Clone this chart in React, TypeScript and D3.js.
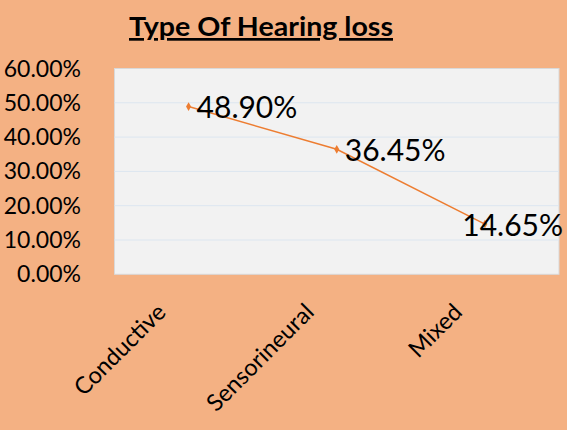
import React from "react";
import * as d3 from "d3";

const categories = ["Conductive", "Sensorineural", "Mixed"];
const values = [48.9, 36.45, 14.65];
const valueLabels = ["48.90%", "36.45%", "14.65%"];
const yTicks = [0, 10, 20, 30, 40, 50, 60];

const W = 567;
const H = 430;
const plot = { left: 114.5, right: 559, top: 68.5, bottom: 274.3 };
const FONT = "Lato, 'Open Sans', sans-serif";

export default function App() {
  const x = d3.scaleBand<string>().domain(categories).range([plot.left, plot.right]);
  const y = d3.scaleLinear().domain([0, 60]).range([plot.bottom, plot.top]);
  const cx = (c: string) => (x(c) ?? 0) + x.bandwidth() / 2;
  const line = d3
    .line<number>()
    .x((_, i) => cx(categories[i]))
    .y((v) => y(v));
  const diamond = d3.symbol().type(d3.symbolDiamond).size(22)();

  return (
    <svg
      width={W}
      height={H}
      style={{ position: "absolute", left: 0, top: 0, display: "block" }}
      fontFamily={FONT}
    >
      <rect x={0} y={0} width={W} height={H} fill="#F4B183" />
      <text
        x={261}
        y={36}
        textAnchor="middle"
        fontSize={27}
        fontWeight="bold"
        fill="#000"
        textDecoration="underline"
        textLength={264}
        lengthAdjust="spacingAndGlyphs"
      >
        Type Of Hearing loss
      </text>
      <rect
        x={plot.left}
        y={plot.top}
        width={plot.right - plot.left}
        height={plot.bottom - plot.top}
        fill="#F2F2F2"
        stroke="#D9D9D9"
        strokeWidth={1}
      />
      {yTicks.map((t) =>
        t > 0 && t < 60 ? (
          <line
            key={"g" + t}
            x1={plot.left}
            x2={plot.right}
            y1={y(t)}
            y2={y(t)}
            stroke="#DCE6F0"
            strokeWidth={1}
          />
        ) : null
      )}
      {yTicks.map((t) => (
        <text
          key={"t" + t}
          x={81}
          y={y(t)}
          dy="0.35em"
          textAnchor="end"
          fontSize={23}
          fill="#000"
        >
          {t.toFixed(2) + "%"}
        </text>
      ))}
      <path d={line(values) ?? ""} fill="none" stroke="#ED7D31" strokeWidth={1.5} />
      {values.map((v, i) => (
        <path
          key={"m" + i}
          d={diamond ?? ""}
          transform={`translate(${cx(categories[i])},${y(v)})`}
          fill="#ED7D31"
        />
      ))}
      {values.map((v, i) => {
        const last = i === values.length - 1;
        return (
          <text
            key={"l" + i}
            x={last ? plot.right + 4 : cx(categories[i]) + 8}
            y={y(v) + 1}
            dy="0.35em"
            textAnchor={last ? "end" : "start"}
            fontSize={30}
            fill="#000"
          >
            {valueLabels[i]}
          </text>
        );
      })}
      {categories.map((c) => {
        const ax = cx(c) - 33;
        const ay = 302;
        return (
          <text
            key={"c" + c}
            x={ax}
            y={ay}
            textAnchor="end"
            dy="0.7em"
            fontSize={23.5}
            fill="#000"
            transform={`rotate(-45, ${ax}, ${ay})`}
          >
            {c}
          </text>
        );
      })}
    </svg>
  );
}
